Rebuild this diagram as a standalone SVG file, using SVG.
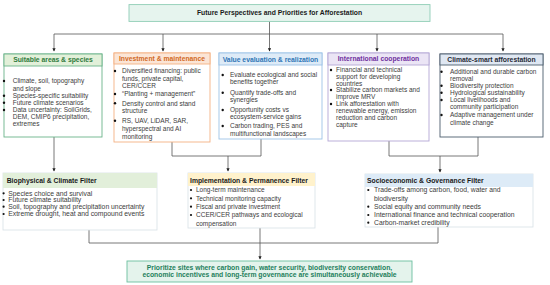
<svg xmlns="http://www.w3.org/2000/svg" width="550" height="285" viewBox="0 0 550 285">
<defs>
<marker id="ah" viewBox="0 0 6 6" refX="5" refY="3" markerWidth="4" markerHeight="4" orient="auto"><path d="M0,0 L6,3 L0,6 z" fill="#222"/></marker>
<style>
text{font-family:"Liberation Sans",Arial,sans-serif}
.b{font-size:6.5px;fill:#3c3c3c}
.b2{font-size:6.8px;fill:#3c3c3c}
.h{font-size:6.8px;font-weight:bold;text-anchor:middle}
.fh{font-size:6.8px;font-weight:bold;fill:#1a1a1a}
.d{fill:#111}
.c{fill:none;stroke:#555;stroke-width:0.8}
.ca{fill:none;stroke:#555;stroke-width:0.8;marker-end:url(#ah)}
.fb{fill:#fff;stroke:#d8e0e6;stroke-width:0.8}
</style>
</defs>
<rect width="550" height="285" fill="#fff"/>

<g id="connectors">
<path class="c" d="M269.5,21.4 V34 M54,34 H503"/>
<path class="ca" d="M54,34 V51"/>
<path class="ca" d="M163,34 V51"/>
<path class="ca" d="M269.5,34 V51"/>
<path class="ca" d="M377,34 V51"/>
<path class="ca" d="M503,34 V51"/>
<path class="ca" d="M54,137 V171"/>
<path class="c" d="M172,142 V156 H261 V139"/>
<path class="ca" d="M228,156 V171"/>
<path class="c" d="M389,141 V156 H478 V137"/>
<path class="ca" d="M440,156 V172"/>
<path class="c" d="M89,230 V243 H438 V227 M260,228 V243"/>
<path class="ca" d="M260,243 V259"/>
</g>

<g id="title">
<rect x="129" y="4.6" width="301" height="16.8" fill="#e6f4ee" stroke="#8fcdb6" stroke-width="0.9"/>
<text x="279.5" y="15.3" class="h" fill="#1a1a1a">Future Perspectives and Priorities for Afforestation</text>
</g>

<g id="suitable">
<rect x="4" y="54" width="98" height="83" fill="#fff" stroke="#6bb38a" stroke-width="0.9"/>
<rect x="4" y="54" width="98" height="12" fill="#e2f0d9" stroke="#6bb38a" stroke-width="0.9"/>
<text x="53" y="61.8" class="h" fill="#2f7a3c">Suitable areas &amp; species</text>
<g class="b">
<text x="12.7" y="83.2">Climate, soil, topography</text>
<text x="12.7" y="90.9">and slope</text>
<text x="12.7" y="97.9">Species-specific suitability</text>
<text x="12.7" y="104.9">Future climate scenarios</text>
<text x="12.7" y="112.2">Data uncertainty: SoilGrids,</text>
<text x="12.7" y="118.9">DEM, CMIP6 precipitation,</text>
<text x="12.7" y="125.5">extremes</text>
</g>
<g class="d"><circle cx="4" cy="81" r="1.2"/><circle cx="4" cy="95.7" r="1.2"/><circle cx="4" cy="102.7" r="1.2"/><circle cx="4" cy="110" r="1.2"/></g>
</g>

<g id="investment">
<rect x="114" y="53" width="96" height="89" fill="#fff" stroke="#f4b183" stroke-width="0.9"/>
<rect x="114" y="53" width="96" height="11" fill="#fbe5d6" stroke="#f4b183" stroke-width="0.9"/>
<text x="162" y="60.7" class="h" fill="#d2691e">Investment &amp; maintenance</text>
<g class="b">
<text x="122" y="73.2">Diversified financing: public</text>
<text x="122" y="80.5">funds, private capital,</text>
<text x="122" y="88.2">CER/CCER</text>
<text x="122" y="96.2">“Planting + management”</text>
<text x="122" y="105.5">Density control and stand</text>
<text x="122" y="113.2">structure</text>
<text x="122" y="122.9">RS, UAV, LiDAR, SAR,</text>
<text x="122" y="130.5">hyperspectral and AI</text>
<text x="122" y="138.9">monitoring</text>
</g>
<g class="d"><circle cx="115" cy="71" r="1.2"/><circle cx="115" cy="94" r="1.2"/><circle cx="115" cy="103.3" r="1.2"/><circle cx="115" cy="120.7" r="1.2"/></g>
</g>

<g id="value">
<rect x="219" y="53" width="103" height="86" fill="#fff" stroke="#9dc3e6" stroke-width="0.9"/>
<rect x="219" y="53" width="103" height="12" fill="#deebf7" stroke="#9dc3e6" stroke-width="0.9"/>
<text x="270.5" y="61.5" class="h" fill="#2e75b6">Value evaluation &amp; realization</text>
<g class="b">
<text x="230" y="77.2">Evaluate ecological and social</text>
<text x="230" y="83.9">benefits together</text>
<text x="230" y="94.9">Quantify trade-offs and</text>
<text x="230" y="102.2">synergies</text>
<text x="230" y="112.2">Opportunity costs vs</text>
<text x="230" y="118.9">ecosystem-service gains</text>
<text x="230" y="128.2">Carbon trading, PES and</text>
<text x="230" y="135.5">multifunctional landscapes</text>
</g>
<g class="d"><circle cx="222.7" cy="75" r="1.2"/><circle cx="222.7" cy="92.7" r="1.2"/><circle cx="222.7" cy="110" r="1.2"/><circle cx="222.7" cy="126" r="1.2"/></g>
</g>

<g id="international">
<rect x="328" y="53" width="101" height="88" fill="#fff" stroke="#b4a7d6" stroke-width="0.9"/>
<rect x="328" y="53" width="101" height="12" fill="#ebe5f5" stroke="#b4a7d6" stroke-width="0.9"/>
<text x="378.5" y="61.3" class="h" fill="#7030a0">International cooperation</text>
<g class="b">
<text x="336" y="72.2">Financial and technical</text>
<text x="336" y="78.9">support for developing</text>
<text x="336" y="85.5">countries</text>
<text x="336" y="92.2">Stabilize carbon markets and</text>
<text x="336" y="98.9">improve MRV</text>
<text x="336" y="106.2">Link afforestation with</text>
<text x="336" y="113.2">renewable energy, emission</text>
<text x="336" y="119.9">reduction and carbon</text>
<text x="336" y="126.5">capture</text>
</g>
<g class="d"><circle cx="331" cy="70" r="1.2"/><circle cx="331" cy="90" r="1.2"/><circle cx="331" cy="104" r="1.2"/></g>
</g>

<g id="climate-smart">
<rect x="440" y="54" width="103" height="83" fill="#fff" stroke="#4d5d6e" stroke-width="0.9"/>
<rect x="440" y="54" width="103" height="11" fill="#dfe7f2" stroke="#4d5d6e" stroke-width="0.9"/>
<text x="491.5" y="61.6" class="h" fill="#1f2a36">Climate-smart afforestation</text>
<g class="b">
<text x="450" y="73.9">Additional and durable carbon</text>
<text x="450" y="80.5">removal</text>
<text x="450" y="87.9">Biodiversity protection</text>
<text x="450" y="94.9">Hydrological sustainability</text>
<text x="450" y="102.2">Local livelihoods and</text>
<text x="450" y="108.9">community participation</text>
<text x="450" y="117.2">Adaptive management under</text>
<text x="450" y="124.5">climate change</text>
</g>
<g class="d"><circle cx="441.5" cy="71.7" r="1.2"/><circle cx="441.5" cy="85.7" r="1.2"/><circle cx="441.5" cy="92.7" r="1.2"/><circle cx="441.5" cy="100" r="1.2"/><circle cx="441.5" cy="115" r="1.2"/></g>
</g>

<g id="biophysical-filter">
<rect x="3" y="173" width="154" height="57" class="fb"/>
<rect x="3" y="173" width="154" height="15" fill="#e2efda"/>
<text x="6.7" y="183" class="fh">Biophysical &amp; Climate Filter</text>
<g class="b2">
<text x="8.3" y="195.5">Species choice and survival</text>
<text x="8.3" y="202.2">Future climate suitability</text>
<text x="8.3" y="208.9">Soil, topography and precipitation uncertainty</text>
<text x="8.3" y="216.2">Extreme drought, heat and compound events</text>
</g>
<g class="d"><circle cx="3.6" cy="193.3" r="1.1"/><circle cx="3.6" cy="200" r="1.1"/><circle cx="3.6" cy="206.7" r="1.1"/><circle cx="3.6" cy="214" r="1.1"/></g>
</g>

<g id="implementation-filter">
<rect x="188" y="173" width="127" height="55" class="fb"/>
<rect x="188" y="173" width="127" height="13" fill="#fff2cc"/>
<text x="190" y="183" class="fh">Implementation &amp; Permanence Filter</text>
<g class="b">
<text x="196" y="192.2">Long-term maintenance</text>
<text x="196" y="200.5">Technical monitoring capacity</text>
<text x="196" y="208.9">Fiscal and private investment</text>
<text x="196" y="217.2">CCER/CER pathways and ecological</text>
<text x="196" y="225.5">compensation</text>
</g>
<g class="d"><circle cx="191" cy="190" r="1.1"/><circle cx="191" cy="198.3" r="1.1"/><circle cx="191" cy="206.7" r="1.1"/><circle cx="191" cy="215" r="1.1"/></g>
</g>

<g id="socioeconomic-filter">
<rect x="365" y="174" width="168" height="53" class="fb"/>
<rect x="365" y="174" width="168" height="13" fill="#ddebf7"/>
<text x="367" y="183.3" class="fh">Socioeconomic &amp; Governance Filter</text>
<g class="b2">
<text x="374" y="192.2">Trade-offs among carbon, food, water and</text>
<text x="374" y="200.5">biodiversity</text>
<text x="374" y="208.9">Social equity and community needs</text>
<text x="374" y="217.2">International finance and technical cooperation</text>
<text x="374" y="224.9">Carbon-market credibility</text>
</g>
<g class="d"><circle cx="368.3" cy="190" r="1.1"/><circle cx="368.3" cy="206.7" r="1.1"/><circle cx="368.3" cy="215" r="1.1"/><circle cx="368.3" cy="222.7" r="1.1"/></g>
</g>

<g id="priority">
<rect x="127" y="261" width="285" height="21" fill="#e4f3ec" stroke="#6cbf9f" stroke-width="0.9"/>
<text x="269.5" y="269.6" class="h" fill="#1f7f5c">Prioritize sites where carbon gain, water security, biodiversity conservation,</text>
<text x="269.5" y="277.3" class="h" fill="#1f7f5c">economic incentives and long-term governance are simultaneously achievable</text>
</g>
</svg>
